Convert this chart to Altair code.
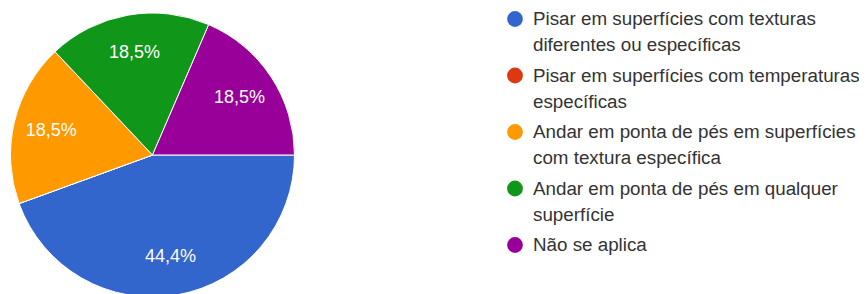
import math
import altair as alt
import pandas as pd

categories = [
    "Pisar em superfícies com texturas diferentes ou específicas",
    "Pisar em superfícies com temperaturas específicas",
    "Andar em ponta de pés em superfícies com textura específica",
    "Andar em ponta de pés em qualquer superfície",
    "Não se aplica",
]
legend_line1 = [
    "Pisar em superfícies com texturas",
    "Pisar em superfícies com temperaturas",
    "Andar em ponta de pés em superfícies",
    "Andar em ponta de pés em qualquer",
    "Não se aplica",
]
legend_line2 = [
    "diferentes ou específicas",
    "específicas",
    "com textura específica",
    "superfície",
    "",
]
counts = [12, 0, 5, 5, 5]
colors = ["#3366cc", "#dc3912", "#ff9900", "#109618", "#990099"]

total = sum(counts)
labels = [(f"{c / total * 100:.1f}%".replace(".", ",") if c > 0 else "") for c in counts]

df = pd.DataFrame({
    "cat": categories,
    "idx": list(range(len(categories))),
    "value": counts,
    "label": labels,
    "l1": legend_line1,
    "l2": legend_line2,
})

color = alt.Color("cat:N", scale=alt.Scale(domain=categories, range=colors), legend=None)
theta = alt.Theta("value:Q", stack=True,
                  scale=alt.Scale(range=[math.pi / 2, math.pi / 2 + 2 * math.pi]))
order = alt.Order("idx:Q")

CX, CY = 144.5, 147

base = alt.Chart(df)

pie = base.mark_arc(radius=142, stroke="white", strokeWidth=1).encode(
    theta=theta, color=color, order=order,
    x=alt.value(CX), y=alt.value(CY),
)

pie_labels = base.mark_text(radius=104, color="white", fontSize=18, font="Liberation Sans, Arial",
                            align="center", baseline="middle").encode(
    theta=theta, order=order, text="label:N",
    x=alt.value(CX), y=alt.value(CY),
)

ypos = alt.Y("idx:Q", scale=alt.Scale(domain=[0, 4], range=[11, 237]), axis=None)

leg_sym = base.mark_point(filled=True, shape="circle", size=250, opacity=1).encode(
    x=alt.value(507), y=ypos, color=color,
)
leg_t1 = base.mark_text(align="left", baseline="middle", fontSize=18.8,
                        font="Liberation Sans, Arial", color="#333333").encode(
    x=alt.value(525), y=ypos, text="l1:N",
)
leg_t2 = base.mark_text(align="left", baseline="middle", fontSize=18.8, dy=26,
                        font="Liberation Sans, Arial", color="#333333").encode(
    x=alt.value(525), y=ypos, text="l2:N",
)

chart = alt.layer(pie, pie_labels, leg_sym, leg_t1, leg_t2).properties(
    width=851, height=286, padding=0, autosize="none",
).configure_view(stroke=None)

chart.save("out.html", embed_options={"renderer": "svg", "actions": False})
